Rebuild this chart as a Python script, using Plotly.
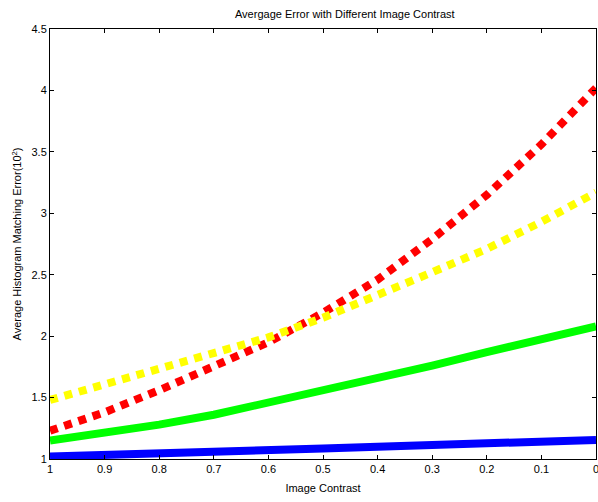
import plotly.graph_objects as go

contrast = [1.0, 0.9, 0.8, 0.7, 0.6, 0.5, 0.4, 0.3, 0.2, 0.1, 0.0]
blue_err = [1.02, 1.03, 1.045, 1.06, 1.07, 1.085, 1.10, 1.11, 1.125, 1.14, 1.155]
green_err = [1.15, 1.21, 1.28, 1.36, 1.46, 1.55, 1.65, 1.76, 1.87, 1.97, 2.08]
red_err = [1.23, 1.38, 1.56, 1.75, 1.95, 2.19, 2.46, 2.79, 3.15, 3.56, 4.02]
yellow_err = [1.48, 1.61, 1.74, 1.87, 1.99, 2.15, 2.33, 2.52, 2.71, 2.93, 3.17]

x_ticks = [1, 0.9, 0.8, 0.7, 0.6, 0.5, 0.4, 0.3, 0.2, 0.1, 0]
x_labels = ["1", "0.9", "0.8", "0.7", "0.6", "0.5", "0.4", "0.3", "0.2", "0.1", "0"]
y_ticks = [1, 1.5, 2, 2.5, 3, 3.5, 4, 4.5]
y_labels = ["1", "1.5", "2", "2.5", "3", "3.5", "4", "4.5"]

fig = go.Figure()
fig.add_trace(go.Scatter(x=contrast, y=blue_err, mode="lines", line=dict(color="#0000ff", width=8)))
fig.add_trace(go.Scatter(x=contrast, y=green_err, mode="lines", line=dict(color="#00ff00", width=8)))
fig.add_trace(go.Scatter(x=contrast, y=red_err, mode="lines", line=dict(color="#ff0000", width=8, dash="8px,7px")))
fig.add_trace(go.Scatter(x=contrast, y=yellow_err, mode="lines", line=dict(color="#ffff00", width=8, dash="8px,7px")))

font_family = "Liberation Sans, Arial, Helvetica, sans-serif"
fig.update_layout(
    width=598, height=502,
    margin=dict(l=50, r=2, t=29, b=43, autoexpand=False),
    paper_bgcolor="white", plot_bgcolor="white",
    showlegend=False,
    font=dict(family=font_family, size=11, color="black"),
    title=dict(text="Avergage Error with Different Image Contrast", x=0.54, xanchor="center",
               xref="paper", y=1 - 14 / 502, yref="container", yanchor="middle", font=dict(size=11)),
)
fig.update_xaxes(
    range=[1, 0], tickmode="array", tickvals=x_ticks, ticktext=x_labels, automargin=False,
    ticklabeloverflow="allow",
    ticks="inside", ticklen=4, tickcolor="black", showline=True, linecolor="black",
    linewidth=1, mirror="ticks", showgrid=False, zeroline=False,
    title=dict(text="Image Contrast", standoff=10, font=dict(size=11)),
)
fig.update_yaxes(
    range=[1, 4.5], tickmode="array", tickvals=y_ticks, ticktext=y_labels, automargin=False,
    ticks="inside", ticklen=4, tickcolor="black", showline=True, linecolor="black",
    linewidth=1, mirror="ticks", showgrid=False, zeroline=False,
    title=dict(text="Average Histogram Matching Error(10<sup>2</sup>)", standoff=7, font=dict(size=11)),
)
fig.write_html(
    "out.html",
    config={"displayModeBar": False},
    post_script="document.body.style.margin='0';document.body.style.overflow='hidden';document.documentElement.style.overflow='hidden';",
)
